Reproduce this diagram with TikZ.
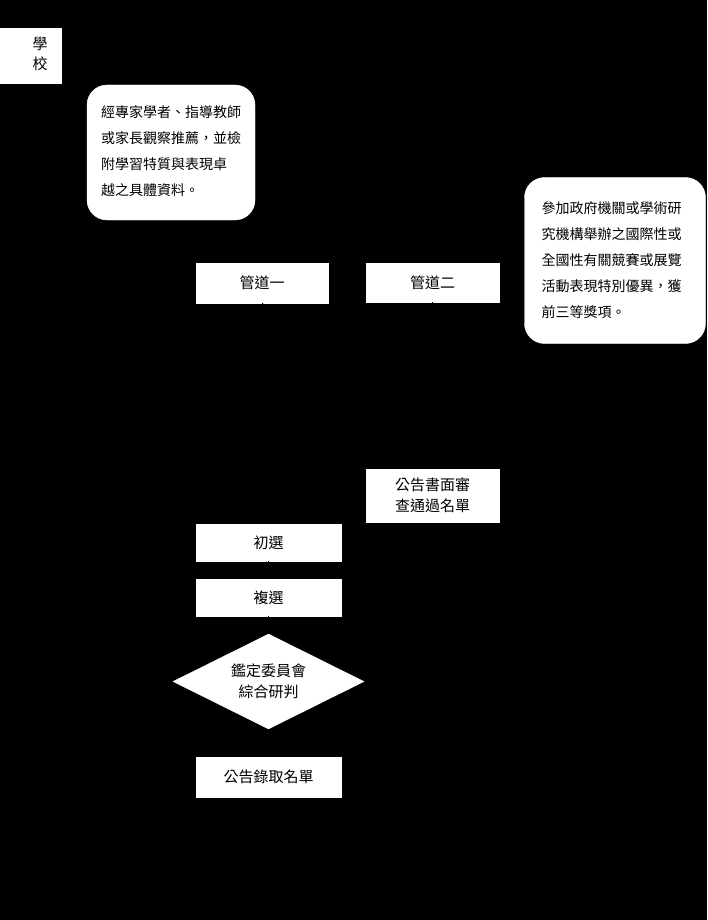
\documentclass[tikz,border=0pt]{standalone}
\usepackage{fontspec}
\newfontfamily\cjk{Noto Sans CJK TC}
\usetikzlibrary{shapes.geometric,arrows.meta}
\begin{document}
\begin{tikzpicture}[x=1pt,y=-1pt,
  box/.style={draw=white,fill=white,rectangle,inner sep=0pt,font=\cjk\fontsize{15}{21}\selectfont,align=center},
  note/.style={draw=white,fill=white,rounded corners=20pt,inner sep=0pt},
  notetext/.style={font=\cjk\fontsize{14}{26}\selectfont,align=left,inner sep=0pt},
  conn/.style={draw=black,line width=1pt,-{Stealth[length=7pt]}}]
\fill[black] (0,0) rectangle (707,920);
\useasboundingbox (0,0) rectangle (707,920);
% school
\node[box,minimum width=61pt,minimum height=55pt] (school) at (30.5,56) {};
\node[font=\cjk\fontsize{15}{20}\selectfont,align=center,inner sep=0pt] (schooltxt) at (40,54) {學\\校};
% notes
\node[note,minimum width=168pt,minimum height=135pt] (note1) at (171,152.5) {};
\node[notetext,text width=142pt] (note1txt) at (172,151)
  {經專家學者、指導教師\\或家長觀察推薦，並檢\\附學習特質與表現卓\\越之具體資料。};
\node[note,minimum width=181pt,minimum height=166pt] (note2) at (615,260.5) {};
\node[notetext,text width=143pt] (note2txt) at (613,260)
  {參加政府機關或學術研\\究機構舉辦之國際性或\\全國性有關競賽或展覽\\活動表現特別優異，獲\\前三等獎項。};
% channels
\node[box,minimum width=132pt,minimum height=40pt] (ch1) at (262,283) {管道一};
\node[box,minimum width=133pt,minimum height=39pt] (ch2) at (432.5,282.5) {管道二};
% announce written review
\node[box,minimum width=133pt,minimum height=53pt] (ann1) at (432.5,495.5) {公告書面審\\查通過名單};
% selections
\node[box,minimum width=145pt,minimum height=37pt] (sel1) at (268.5,542.5) {初選};
\node[box,minimum width=145pt,minimum height=37pt] (sel2) at (268.5,597.5) {複選};
% diamond
\node[draw=white,fill=white,diamond,aspect=2.01,minimum width=191pt,minimum height=95pt,inner sep=0pt,
  font=\cjk\fontsize{15}{21}\selectfont,align=center] (judge) at (268.5,681.5) {鑑定委員會\\綜合研判};
% final
\node[box,minimum width=145pt,minimum height=40pt] (final) at (268.5,777) {公告錄取名單};
% connectors (black, as in the reference)
\draw[conn] (ch1) -- (sel1);
\draw[conn] (sel1) -- (sel2);
\draw[conn] (sel2) -- (judge);
\draw[conn] (judge) -- (final);
\draw[conn] (ch2) -- (ann1);
\end{tikzpicture}
\end{document}
